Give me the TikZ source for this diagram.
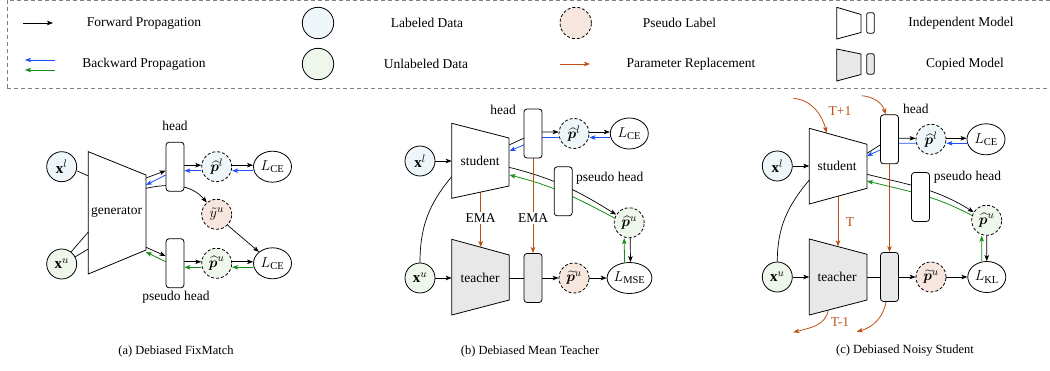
\documentclass[tikz,border=0pt]{standalone}
\usepackage{amsmath,bm}
\usepackage{fontspec}
\setmainfont{Liberation Serif}
\usetikzlibrary{arrows.meta,shapes.geometric}
\pgfdeclarelayer{bg}
\pgfsetlayers{bg,main}
\definecolor{bblue}{RGB}{30,80,255}
\definecolor{bgreen}{RGB}{20,140,20}
\definecolor{brn}{RGB}{190,80,20}
\definecolor{lblue}{RGB}{238,246,250}
\definecolor{lgreen}{RGB}{239,246,235}
\definecolor{lpink}{RGB}{246,230,222}
\definecolor{lgray}{RGB}{232,232,232}
\newcommand\mfnt{\fontsize{15}{17}\selectfont}
\newcommand\tfnt{\fontsize{13.5}{16}\selectfont}
\newcommand\cfnt{\fontsize{12.5}{15}\selectfont}
\begin{document}
\begin{tikzpicture}[x=1pt,y=1pt,
  >={Stealth[length=6pt,width=4.5pt,inset=1.5pt]},
  dat/.style={circle,draw,line width=0.8pt,minimum size=30pt,inner sep=0pt,font=\mfnt},
  ldat/.style={dat,fill=lblue},
  udat/.style={dat,fill=lgreen},
  pdat/.style={dat,dash pattern=on 3pt off 2pt},
  loss/.style={ellipse,draw,line width=0.8pt,minimum width=38pt,minimum height=31pt,inner sep=0pt,fill=white,font=\mfnt},
  hbox/.style={draw,line width=0.8pt,rounded corners=3pt,minimum width=18pt,minimum height=49pt,inner sep=0pt,fill=white},
  cbox/.style={hbox,fill=lgray},
  model/.style={draw,line width=0.8pt},
  fw/.style={->,line width=0.7pt},
  pln/.style={line width=0.7pt},
  bwb/.style={->,bblue,line width=0.8pt},
  bwg/.style={->,bgreen,line width=0.8pt},
  prm/.style={->,brn,line width=0.8pt},
  lab/.style={font=\tfnt,inner sep=1pt},
  capt/.style={font=\cfnt,inner sep=1pt}]
\useasboundingbox (0,0) rectangle (1050,370);

% ---------------- legend ----------------
\draw[gray,line width=0.7pt,dash pattern=on 4pt off 3pt] (7,281.5) rectangle (1062,369.3);
\coordinate (lgf1) at (23,347); \coordinate (lgf2) at (53,347);
\draw[fw] (lgf1) -- (lgf2);
\node[lab] (lgft) at (144,347) {Forward Propagation};
\coordinate (lgb1) at (55,310); \coordinate (lgb2) at (25,310);
\coordinate (lgg1) at (55,300); \coordinate (lgg2) at (25,300);
\draw[bwb] (lgb1) -- (lgb2);
\draw[bwg] (lgg1) -- (lgg2);
\node[lab] (lgbt) at (144,306) {Backward Propagation};
\node[ldat,minimum size=31.4pt] (lgl) at (318,347) {};
\node[lab] (lglt) at (427,347) {Labeled Data};
\node[udat,minimum size=31.4pt] (lgu) at (318,306) {};
\node[lab] (lgut) at (426,306) {Unlabeled Data};
\node[pdat,fill=lpink,minimum size=31.4pt] (lgp) at (575.7,347) {};
\node[lab] (lgpt) at (679.5,347) {Pseudo Label};
\coordinate (lgr1) at (560,306); \coordinate (lgr2) at (590,306);
\draw[prm] (lgr1) -- (lgr2);
\node[lab] (lgrt) at (691,306) {Parameter Replacement};
\draw[model] (836.7,362.7) -- (861,355.5) -- (861,337.5) -- (836.7,331) -- cycle;
\node[draw,line width=0.8pt,rounded corners=2pt,minimum width=7.6pt,minimum height=20.5pt,inner sep=0pt] (lgim) at (870.5,347) {};
\node[lab] (lgit) at (961,347) {Independent Model};
\draw[model,fill=lgray] (836.7,321) -- (861,316) -- (861,295.5) -- (836.7,289) -- cycle;
\node[draw,line width=0.8pt,rounded corners=2pt,minimum width=7.6pt,minimum height=20.5pt,inner sep=0pt,fill=lgray] (lgcm) at (870.5,306) {};
\node[lab] (lgct) at (965,306) {Copied Model};

% ---------------- (a) FixMatch ----------------
\node[ldat] (axl) at (61.7,203.3) {$\mathbf{x}^{l}$};
\node[udat] (axu) at (61.7,106) {$\mathbf{x}^{u}$};
\draw[model] (88.3,218.3) -- (146,195) -- (146,120) -- (88.3,96) -- cycle;
\node[lab] (agen) at (116.7,158.3) {generator};
\coordinate (agi1) at (88.3,194);
\coordinate (agi2) at (88.3,138);
\coordinate (agi3) at (88.3,121);
\coordinate (ago1) at (146,192);
\coordinate (ago2) at (146,185);
\coordinate (ago3) at (146,181.7);
\coordinate (ago4) at (146,122.7);
\coordinate (ago5) at (146,118);
\node[hbox] (ah) at (175,203.3) {};
\node[lab] (ahl) at (175,244) {head};
\node[hbox] (aph) at (175,106.7) {};
\node[lab] (aphl) at (176,73) {pseudo head};
\node[pdat,fill=lblue] (apl) at (216.7,203.3) {$\widehat{\bm{p}}^{l}$};
\node[pdat,fill=lpink] (ayt) at (216.7,155.7) {$\tilde{y}^{u}$};
\node[pdat,fill=lgreen] (apu) at (216.7,106.7) {$\widehat{\bm{p}}^{u}$};
\node[loss] (al1) at (272.5,203.3) {$L_{\mathrm{CE}}$};
\node[loss] (al2) at (272.5,106.7) {$L_{\mathrm{CE}}$};
\begin{pgfonlayer}{bg}
\draw[pln] (axl.-15) -- (agi1);
\draw[pln] (axu.52) -- (agi2);
\draw[pln] (axu.28) -- (agi3);
\draw[fw] (ago1) -- ([yshift=-4]ah.west);
\draw[bwb] ([yshift=-8.3]ah.west) -- (ago2);
\draw[fw] (ago3) to[out=12,in=130] (ayt.130);
\draw[fw] ([yshift=1.5]ah.east) -- ([yshift=1.5]apl.west);
\draw[bwb] ([yshift=-4]apl.west) -- ([yshift=-4]ah.east);
\draw[fw] ([yshift=1.5]apl.east) -- ([yshift=1.5]al1.west);
\draw[bwb] ([yshift=-4]al1.west) -- ([yshift=-4]apl.east);
\draw[fw] (ayt.-45) -- (al2.140);
\draw[fw] (ago4) -- ([yshift=7.3]aph.west);
\draw[bwg] ([yshift=1.6]aph.west) -- (ago5);
\draw[fw] ([yshift=1.5]aph.east) -- ([yshift=1.5]apu.west);
\draw[bwg] ([yshift=-4]apu.west) -- ([yshift=-4]aph.east);
\draw[fw] ([yshift=1.5]apu.east) -- ([yshift=1.5]al2.west);
\draw[bwg] ([yshift=-4]al2.west) -- ([yshift=-4]apu.east);
\end{pgfonlayer}
\node[capt] (acap) at (176,19) {(a) Debiased FixMatch};

% ---------------- (b) Mean Teacher ----------------
\node[ldat] (bxl) at (420,209) {$\mathbf{x}^{l}$};
\node[udat] (bxu) at (420,92) {$\mathbf{x}^{u}$};
\draw[model,fill=white] (451.7,246.7) -- (509,232) -- (509,184) -- (451.7,171.7) -- cycle;
\node[lab] (bstu) at (480,209) {student};
\draw[model,fill=lgray] (451.7,130.7) -- (509.3,115) -- (509.3,70) -- (451.7,55) -- cycle;
\node[lab] (btea) at (480,92) {teacher};
\coordinate (bsi1) at (451.7,209);
\coordinate (bsi2) at (451.7,193.3);
\coordinate (bti1) at (451.7,92);
\coordinate (bso1) at (509,225);
\coordinate (bso2) at (509.5,219);
\coordinate (bso3) at (509,202.7);
\coordinate (bso4) at (509.5,195);
\coordinate (bsb) at (480.7,178.5);
\coordinate (btt) at (480.7,123);
\coordinate (bto) at (509.3,92);
\node[hbox] (bh) at (533,236.5) {};
\node[lab,anchor=east] (bhl) at (517,260) {head};
\node[cbox] (bh2) at (533,92) {};
\node[hbox] (bph) at (563.2,178.7) {};
\node[lab,anchor=west] (bphl) at (575,191.7) {pseudo head};
\node[pdat,fill=lblue] (bpl) at (574,236.5) {$\widehat{\bm{p}}^{l}$};
\node[loss] (bl1) at (629.3,236.5) {$L_{\mathrm{CE}}$};
\node[pdat,fill=lgreen] (bpu) at (629.2,147.2) {$\widehat{\bm{p}}^{u}$};
\node[pdat,fill=lpink] (btp) at (574,92) {$\widetilde{\bm{p}}^{u}$};
\node[loss] (bl2) at (629.5,92) {$L_{\mathrm{MSE}}$};
\node[lab,fill=white,inner sep=1.5pt] (bema1) at (480.7,152.3) {EMA};
\node[lab,fill=white,inner sep=1.5pt] (bema2) at (533,152.3) {EMA};
\begin{pgfonlayer}{bg}
\draw[fw] (bxl) -- (bsi1);
\draw[fw] (bxu) -- (bti1);
\draw[pln] (bxu.north) to[out=90,in=-130] (bsi2);
\draw[fw] (bso1) -- ([yshift=-4.8]bh.west) -- ([yshift=1.5]bh.east) -- ([yshift=1.5]bpl.west);
\draw[bwb] ([yshift=-4]bpl.west) -- ([yshift=-4]bh.east) -- ([yshift=-11.5]bh.west) -- (bso2);
\draw[fw] ([yshift=1.5]bpl.east) -- ([yshift=1.5]bl1.west);
\draw[bwb] ([yshift=-4]bl1.west) -- ([yshift=-4]bpl.east);
\draw[fw] (bso3) to[out=-14,in=148] (bpu.148);
\draw[bwg] (bpu.162) to[out=152,in=-14] (bso4);
\draw[fw] ([xshift=1]bpu.south) -- ([xshift=1]bl2.north);
\draw[bwg] ([xshift=-5]bl2.north) -- ([xshift=-5]bpu.south);
\draw[pln] (bto) -- (bh2.west);
\draw[fw] (bh2.east) -- (btp.west);
\draw[fw] (btp.east) -- (bl2.west);
\draw[prm] (bsb) -- (btt);
\draw[prm] (bh.south) -- (bh2.north);
\end{pgfonlayer}
\node[capt] (bcap) at (530,19) {(b) Debiased Mean Teacher};

% ---------------- (c) Noisy Student ----------------
\node[ldat] (cxl) at (777.3,204) {$\mathbf{x}^{l}$};
\node[udat] (cxu) at (777.3,93) {$\mathbf{x}^{u}$};
\draw[model,fill=white] (809.3,241.7) -- (867,225.7) -- (867,181.7) -- (809.3,166) -- cycle;
\node[lab] (cstu) at (837,204) {student};
\draw[model,fill=lgray] (809.3,131) -- (867,115.7) -- (867,70) -- (809.3,55) -- cycle;
\node[lab] (ctea) at (837,93) {teacher};
\coordinate (csi1) at (809.3,204);
\coordinate (csi2) at (809.3,190);
\coordinate (cti1) at (809.3,93);
\coordinate (cso1) at (867,216.7);
\coordinate (cso2) at (867,214);
\coordinate (cso3) at (867,195.7);
\coordinate (cso4) at (867,189);
\coordinate (csb) at (838,174);
\coordinate (ctt) at (838,123.6);
\coordinate (cto) at (867,93);
\coordinate (cst) at (826.7,237.2);
\coordinate (ctb) at (828.3,60);
\coordinate (cp1) at (793.3,271.7);
\coordinate (cp2) at (861.7,274.3);
\coordinate (cm1) at (793.3,37.7);
\coordinate (cm2) at (856.7,38.3);
\node[hbox] (ch) at (889.5,230.7) {};
\node[lab,anchor=west] (chl) at (902,261) {head};
\node[cbox] (ch2) at (889.5,93) {};
\node[hbox] (cph) at (920.5,173) {};
\node[lab,anchor=west] (cphl) at (932.7,192.7) {pseudo head};
\node[pdat,fill=lblue] (cpl) at (931,230.7) {$\widehat{\bm{p}}^{l}$};
\node[loss] (cl1) at (986,230.7) {$L_{\mathrm{CE}}$};
\node[pdat,fill=lgreen] (cpu) at (986.7,149.7) {$\widehat{\bm{p}}^{u}$};
\node[pdat,fill=lpink] (ctp) at (931,93) {$\widetilde{\bm{p}}^{u}$};
\node[loss] (cl2) at (986.8,93) {$L_{\mathrm{KL}}$};
\node[lab,text=brn] (cT) at (850,148.3) {T};
\node[lab,text=brn] (cTp) at (840,259) {T+1};
\node[lab,text=brn] (cTm) at (840,48.3) {T-1};
\begin{pgfonlayer}{bg}
\draw[fw] (cxl) -- (csi1);
\draw[fw] (cxu) -- (cti1);
\draw[pln] (cxu.north) to[out=90,in=-130] (csi2);
\draw[fw] (cso1) -- ([yshift=-5.7]ch.west) -- ([yshift=1]ch.east) -- ([yshift=1]cpl.west);
\draw[bwb] ([yshift=-4]cpl.west) -- ([yshift=-4]ch.east) -- ([yshift=-10.7]ch.west) -- (cso2);
\draw[fw] ([yshift=1]cpl.east) -- ([yshift=1]cl1.west);
\draw[bwb] ([yshift=-4]cl1.west) -- ([yshift=-4]cpl.east);
\draw[fw] (cso3) to[out=-14,in=148] (cpu.148);
\draw[bwg] (cpu.162) to[out=152,in=-14] (cso4);
\draw[fw] (cpu.south) -- (cl2.north);
\draw[bwg] ([xshift=-5]cl2.north) -- ([xshift=-5]cpu.south);
\draw[pln] (cto) -- (ch2.west);
\draw[fw] (ch2.east) -- (ctp.west);
\draw[fw] (ctp.east) -- (cl2.west);
\draw[prm] (csb) -- (ctt);
\draw[prm] (ch.south) -- (ch2.north);
\draw[prm] (cp1) to[out=-5,in=105] (cst);
\draw[prm] (cp2) to[out=-5,in=105] ([xshift=-4]ch.north);
\draw[prm] (ctb) to[out=-100,in=15] (cm1);
\draw[prm] ([xshift=-3.5]ch2.south) to[out=-100,in=15] (cm2);
\end{pgfonlayer}
\node[capt] (ccap) at (905,19) {(c) Debiased Noisy Student};
\end{tikzpicture}
\end{document}
